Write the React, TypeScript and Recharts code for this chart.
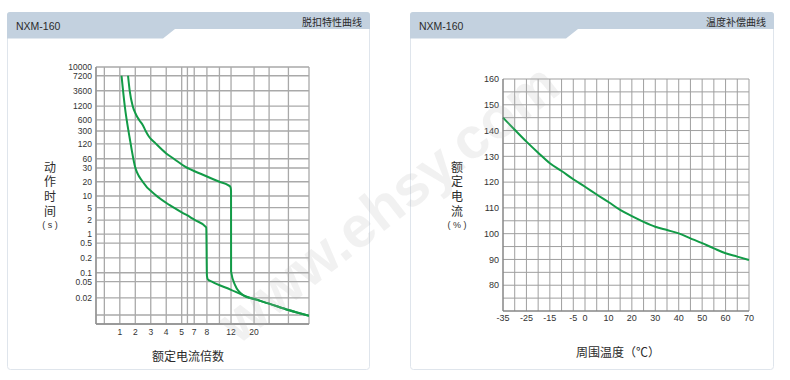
import { LineChart, Line, XAxis, YAxis, CartesianGrid } from 'recharts';

// ---- trip characteristic (left) ----
// operating time in seconds; the printed axis is roughly logarithmic but unevenly spaced,
// so each tick value gets its own stop (grid units, bottom = 0, top = 20)
const timeTicks = [10000, 7200, 3600, 1200, 600, 300, 120, 60, 30, 20, 10, 5, 2, 1, 0.5, 0.2, 0.1, 0.05, 0.02, 0.01, 0.005];
const timeStops = [20, 19.32, 18.15, 16.96, 15.88, 15.02, 14.01, 12.86, 12.14, 11.07, 9.96, 9.05, 8.09, 7.0, 6.3, 5.14, 3.99, 3.29, 2.04, 0.7, 0];
const timeHidden = [0.01, 0.005];

// multiples of rated current that get a grid line, and the ones that get a label
const multipleTicks = [0, 1, 2, 3, 4, 5, 6, 7, 8, 10, 12, 20, 30, 40, 50];
const multipleLabels = [1, 2, 3, 4, 5, 7, 8, 12, 20];
// where each multiple sits on the (irregular) printed axis, in grid units
const multipleStops = [0, 1, 2, 3, 4, 5, 5.37, 5.81, 6.63, 7.44, 8.19, 9.68, 10.65, 11.9, 13.23];

const lowerMultiple = [1.11, 1.32, 1.64, 1.96, 2.48, 3.31, 4.2, 5.3, 6.4, 7, 7.95, 8, 8.15, 8.8, 12, 16.3, 20, 30, 40, 50];
const lowerTime = [7200, 1200, 180, 37, 20, 10.5, 5.9, 3.3, 2.5, 2.05, 1.4, 0.08, 0.06, 0.05, 0.0315, 0.023, 0.019, 0.0158, 0.0122, 0.0095];

const upperMultiple = [1.53, 1.64, 1.83, 2.06, 2.25, 2.48, 2.67, 2.89, 3.31, 4, 4.49, 5.6, 7.73, 10, 11.5, 11.9, 12, 12.02, 13.4, 16.3, 20, 30, 40, 50];
const upperTime = [7200, 3600, 1200, 770, 600, 440, 300, 200, 125, 77, 60, 33, 24.4, 20, 17, 15.5, 13, 0.105, 0.041, 0.023, 0.019, 0.0158, 0.0122, 0.0095];

// ---- temperature compensation (right) ----
const temps = [-35, -30, -25, -20, -15, -10, -5, 0, 5, 10, 15, 20, 25, 30, 35, 40, 45, 50, 55, 60, 65, 70];
const ratedPct = [145, 140.3, 135.7, 131.4, 127.3, 124.3, 121.1, 118.2, 115.2, 112.3, 109.2, 106.8, 104.6, 102.7, 101.4, 100.1, 98.2, 96.3, 94.3, 92.4, 91.1, 89.8];
const tempTicks = [-35, -30, -25, -20, -15, -10, -5, 0, 5, 10, 15, 20, 25, 30, 35, 40, 45, 50, 55, 60, 65, 70];
const tempLabels = [-35, -25, -15, -5, 0, 10, 20, 30, 40, 50, 60, 70];
const pctTicks = [70, 75, 80, 85, 90, 95, 100, 105, 110, 115, 120, 125, 130, 135, 140, 145, 150, 155, 160];
const pctLabels = [80, 90, 100, 110, 120, 130, 140, 150, 160];

const GREEN = '#129b47';
const FONT = '"Liberation Sans", Arial, "Noto Sans CJK SC", sans-serif';
const CJK = '"Noto Sans CJK SC", sans-serif';

function toX(m: number) {
  for (let i = 1; i < multipleTicks.length; i++) {
    if (m <= multipleTicks[i]) {
      const a = multipleTicks[i - 1], b = multipleTicks[i];
      const pa = multipleStops[i - 1], pb = multipleStops[i];
      return pa + ((m - a) / (b - a)) * (pb - pa);
    }
  }
  return multipleStops[multipleStops.length - 1];
}

// log interpolation between the printed time ticks
function toY(t: number) {
  for (let i = 1; i < timeTicks.length; i++) {
    if (t >= timeTicks[i]) {
      const a = Math.log10(timeTicks[i - 1]), b = Math.log10(timeTicks[i]);
      const f = (Math.log10(t) - a) / (b - a);
      return timeStops[i - 1] + f * (timeStops[i] - timeStops[i - 1]);
    }
  }
  return 0;
}

const lowerData = lowerMultiple.map((m, i) => ({ x: toX(m), y: toY(lowerTime[i]) }));
const upperData = upperMultiple.map((m, i) => ({ x: toX(m), y: toY(upperTime[i]) }));
const tempData = temps.map((t, i) => ({ temp: t, pct: ratedPct[i] }));

const xPosTicks = multipleTicks.map(toX);
const yPosTicks = timeTicks.map(toY);
const multipleFmt = (v: number) => {
  const m = multipleTicks[xPosTicks.findIndex((p) => Math.abs(p - v) < 1e-6)];
  return multipleLabels.includes(m) ? String(m) : '';
};
const timeFmt = (v: number) => {
  const t = timeTicks[yPosTicks.findIndex((p) => Math.abs(p - v) < 1e-6)];
  return t === undefined || timeHidden.includes(t) ? '' : String(t);
};

function Card({ x, w, title, sub }: { x: number; w: number; title: string; sub: string }) {
  return (
    <g transform={`translate(${x},12)`}>
      <rect x={0.5} y={0.5} width={w - 1} height={357} fill="#fff" stroke="#dfe5ec" rx={3} />
      <path d={`M0,3 Q0,0 3,0 H${w - 3} Q${w},0 ${w},3 V17 H168 L156,26.5 H0 Z`} fill="#c3d1df" />
      <text x={9} y={13.5} fontSize={10.5} fill="#2b2b2b" fontFamily={FONT} dominantBaseline="central">{title}</text>
      <text x={w - 8} y={9.5} fontSize={10} fill="#2b2b2b" fontFamily={CJK} textAnchor="end" dominantBaseline="central">{sub}</text>
    </g>
  );
}

function VerticalTitle({ x, label, unit }: { x: number; label: string; unit: string }) {
  return (
    <g>
      <text x={x} y={161} fontSize={12} fill="#2b2b2b" fontFamily={CJK} letterSpacing={2.7} style={{ writingMode: 'vertical-rl' }}>{label}</text>
      <text x={x} y={225} fontSize={9} fill="#333" fontFamily={FONT} textAnchor="middle" dominantBaseline="central">{unit}</text>
    </g>
  );
}

export default function App() {
  const tick = { fontSize: 8.5, fill: '#333', fontFamily: FONT };
  return (
    <div style={{ position: 'absolute', left: 0, top: 0, width: 790, height: 380, background: '#fff', overflow: 'hidden' }}>
      <svg width={790} height={380} style={{ position: 'absolute', left: 0, top: 0 }}>
        <Card x={7} w={363} title="NXM-160" sub="脱扣特性曲线" />
        <Card x={410} w={364} title="NXM-160" sub="温度补偿曲线" />
        <VerticalTitle x={50} label="动作时间" unit="( s )" />
        <VerticalTitle x={457} label="额定电流" unit="( % )" />
        <text x={188} y={355} fontSize={12} fontFamily={CJK} fill="#2b2b2b" textAnchor="middle" dominantBaseline="central">额定电流倍数</text>
        <text x={618} y={351} fontSize={12} fontFamily={CJK} fill="#2b2b2b" textAnchor="middle" dominantBaseline="central">周围温度（℃）</text>
      </svg>

      <div style={{ position: 'absolute', left: 0, top: 0 }}>
        <LineChart width={330} height={380} margin={{ top: 67, right: 21, bottom: 0, left: 0 }}>
          <CartesianGrid stroke="#a9a9a9" strokeWidth={1.3} />
          <XAxis
            type="number"
            dataKey="x"
            domain={[-0.54, 13.23]}
            allowDataOverflow
            ticks={xPosTicks}
            interval={0}
            tickFormatter={multipleFmt}
            tickLine={false}
            tickSize={0}
            tickMargin={5}
            height={56}
            axisLine={{ stroke: '#8e8e8e', strokeWidth: 1.3 }}
            tick={tick}
          />
          <YAxis
            type="number"
            domain={[0, 20]}
            allowDataOverflow
            ticks={yPosTicks}
            interval={0}
            tickFormatter={timeFmt}
            tickLine={false}
            tickSize={0}
            tickMargin={4}
            width={96}
            axisLine={{ stroke: '#8e8e8e', strokeWidth: 1.3 }}
            tick={tick}
          />
          <Line data={lowerData} dataKey="y" type="monotone" stroke={GREEN} strokeWidth={2} dot={false} isAnimationActive={false} />
          <Line data={upperData} dataKey="y" type="monotone" stroke={GREEN} strokeWidth={2} dot={false} isAnimationActive={false} />
        </LineChart>
      </div>

      <div style={{ position: 'absolute', left: 400, top: 0 }}>
        <LineChart width={360} height={380} data={tempData} margin={{ top: 79, right: 11, bottom: 0, left: 0 }}>
          <CartesianGrid stroke="#9f9f9f" strokeWidth={1} />
          <XAxis
            type="number"
            dataKey="temp"
            domain={[-35, 70]}
            ticks={tempTicks}
            interval={0}
            tickFormatter={(v: number) => (tempLabels.includes(v) ? String(v) : '')}
            tickLine={false}
            tickSize={0}
            tickMargin={4}
            height={69}
            axisLine={{ stroke: '#7a7a7a' }}
            tick={{ ...tick, fontSize: 9 }}
          />
          <YAxis
            type="number"
            domain={[70, 160]}
            ticks={pctTicks}
            interval={0}
            tickFormatter={(v: number) => (pctLabels.includes(v) ? String(v) : '')}
            tickLine={false}
            tickSize={0}
            tickMargin={4}
            width={103}
            axisLine={{ stroke: '#7a7a7a' }}
            tick={{ ...tick, fontSize: 9 }}
          />
          <Line dataKey="pct" type="monotone" stroke={GREEN} strokeWidth={2} dot={false} isAnimationActive={false} />
        </LineChart>
      </div>

      <svg width={790} height={380} style={{ position: 'absolute', left: 0, top: 0, pointerEvents: 'none' }}>
        <text
          x={390}
          y={222}
          transform="rotate(-38 390 205)"
          fontSize={58}
          fontWeight="bold"
          fontFamily={FONT}
          fill="#b0b0b0"
          fillOpacity={0.18}
          textAnchor="middle"
        >
          www.ehsy.com
        </text>
      </svg>
    </div>
  );
}
